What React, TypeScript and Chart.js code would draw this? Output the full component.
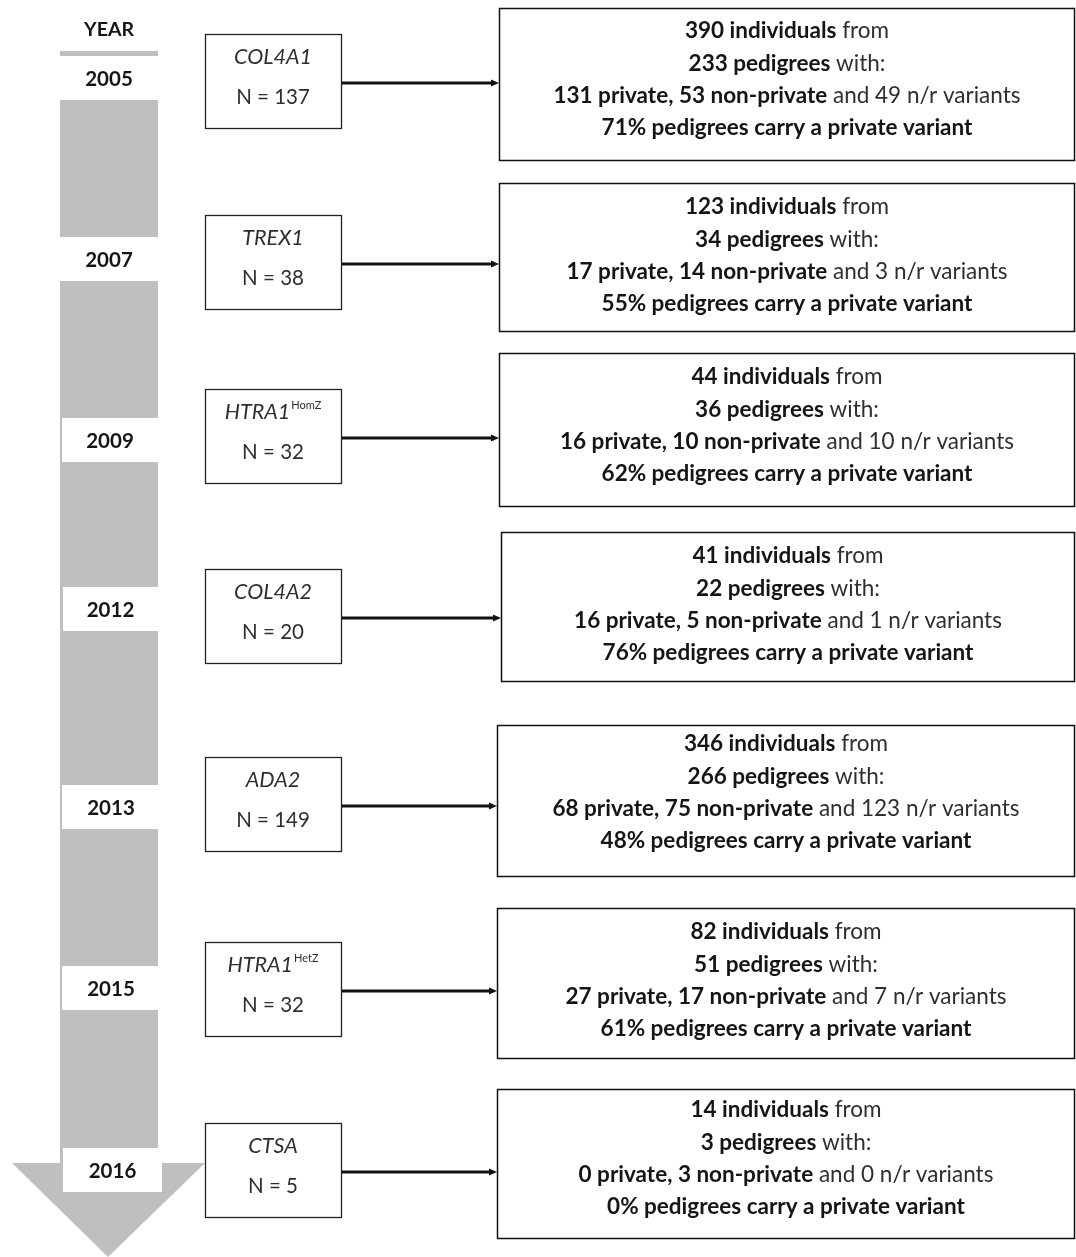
import React, { useEffect, useRef } from 'react';
import { Chart, registerables } from 'chart.js';

Chart.register(...registerables);

// ---------- data ----------
const years = ['2005', '2007', '2009', '2012', '2013', '2015', '2016'];
const genes = ['COL4A1', 'TREX1', 'HTRA1', 'COL4A2', 'ADA2', 'HTRA1', 'CTSA'];
const geneSup = ['', '', 'HomZ', '', '', 'HetZ', ''];
const geneN = [137, 38, 32, 20, 149, 32, 5];
const individuals = [390, 123, 44, 41, 346, 82, 14];
const pedigrees = [233, 34, 36, 22, 266, 51, 3];
const privateV = [131, 17, 16, 16, 68, 27, 0];
const nonPrivateV = [53, 14, 10, 5, 75, 17, 3];
const nrV = [49, 3, 10, 1, 123, 7, 0];
const pctPrivate = [71, 55, 62, 76, 48, 61, 0];

// ---------- layout (pixel units of the hidden linear scales) ----------
const W = 1076;
const H = 1257;
const yearBoxTop = [56, 237, 418, 587, 785, 966, 1148];
const yearBoxLeft = [60, 60, 62, 63, 62, 62, 63];
const yearBoxRight = [158, 158, 158, 158, 160, 160, 162];
const yearBoxH = 44;
const geneBoxTop = [34, 215, 389, 569, 757, 942, 1123];
const geneBoxH = 94;
const geneBoxL = 205;
const geneBoxR = 341;
const infoTop = [8, 183, 353, 532, 725, 908, 1089];
const infoBottom = [160, 331, 506, 681, 876, 1058, 1238];
const infoLeft = [499, 499, 499, 501, 497, 497, 497];
const infoRight = 1075;
const infoFirstLine = [31, 207, 377, 556, 744, 932, 1110];
const lineGap = 32.3;

const FONT = 'Lato, "Liberation Sans", sans-serif';
const TXT_B = '#151515';
const TXT_R = '#2e2e2e';

type Seg = { t: string; b?: boolean; i?: boolean };

function drawRich(ctx: CanvasRenderingContext2D, segs: Seg[], cx: number, cy: number, size: number) {
  const fontOf = (s: Seg) => `${s.i ? 'italic ' : ''}${s.b ? 'bold ' : ''}${size}px ${FONT}`;
  let total = 0;
  const widths = segs.map((s) => {
    ctx.font = fontOf(s);
    const w = ctx.measureText(s.t).width;
    total += w;
    return w;
  });
  let x = cx - total / 2;
  ctx.textAlign = 'left';
  ctx.textBaseline = 'middle';
  segs.forEach((s, k) => {
    ctx.font = fontOf(s);
    ctx.fillStyle = s.b ? TXT_B : TXT_R;
    ctx.fillText(s.t, x, cy);
    x += widths[k];
  });
}

const diagramPlugin = {
  id: 'timelineDiagram',
  afterDatasetsDraw(chart: any) {
    const ctx: CanvasRenderingContext2D = chart.ctx;
    const xs = chart.scales.x;
    const ys = chart.scales.y;
    const px = (v: number) => xs.getPixelForValue(v);
    const py = (v: number) => ys.getPixelForValue(v);
    ctx.save();

    // timeline shaft + arrow head
    ctx.fillStyle = '#bfbfbf';
    ctx.fillRect(px(60), py(51), px(158) - px(60), py(1164) - py(51));
    ctx.beginPath();
    ctx.moveTo(px(12), py(1163));
    ctx.lineTo(px(205), py(1163));
    ctx.lineTo(px(108), py(1257));
    ctx.closePath();
    ctx.fill();

    // YEAR header
    ctx.fillStyle = TXT_B;
    ctx.font = `bold 19.5px ${FONT}`;
    ctx.textAlign = 'center';
    ctx.textBaseline = 'middle';
    ctx.fillText('YEAR', px(109), py(30));

    years.forEach((yr, i) => {
      const l = px(yearBoxLeft[i]);
      const r = px(yearBoxRight[i]);
      const t = py(yearBoxTop[i]);
      const b = py(yearBoxTop[i] + yearBoxH);
      ctx.fillStyle = '#ffffff';
      ctx.fillRect(l, t, r - l, b - t);
      ctx.fillStyle = TXT_B;
      ctx.font = `bold 20.5px ${FONT}`;
      ctx.textAlign = 'center';
      ctx.textBaseline = 'middle';
      ctx.fillText(yr, (l + r) / 2, (t + b) / 2 + 1);
    });

    // gene boxes
    genes.forEach((g, i) => {
      const l = px(geneBoxL);
      const r = px(geneBoxR);
      const t = py(geneBoxTop[i]);
      const b = py(geneBoxTop[i] + geneBoxH);
      ctx.fillStyle = '#ffffff';
      ctx.fillRect(l, t, r - l, b - t);
      ctx.strokeStyle = '#222222';
      ctx.lineWidth = 1.3;
      ctx.strokeRect(l + 0.5, t + 0.5, r - l, b - t);
      const cx = (l + r) / 2;
      // name (italic) with optional superscript
      ctx.font = `italic 21.5px ${FONT}`;
      const wName = ctx.measureText(g).width;
      ctx.font = `11px ${FONT}`;
      const wSup = geneSup[i] ? ctx.measureText(geneSup[i]).width + 1 : 0;
      const x0 = cx - (wName + wSup) / 2;
      ctx.textAlign = 'left';
      ctx.textBaseline = 'middle';
      ctx.fillStyle = '#2e2e2e';
      ctx.font = `italic 21.5px ${FONT}`;
      ctx.fillText(g, x0, t + 23);
      if (geneSup[i]) {
        ctx.font = `11px ${FONT}`;
        ctx.fillText(geneSup[i], x0 + wName + 1, t + 16);
      }
      ctx.font = `20.5px ${FONT}`;
      ctx.textAlign = 'center';
      ctx.fillText(`N = ${geneN[i]}`, cx, t + 63);
    });

    // arrows + info boxes
    genes.forEach((_, i) => {
      const ay = py(geneBoxTop[i] + geneBoxH / 2 + 2);
      const x1 = px(geneBoxR + 1);
      const x2 = px(infoLeft[i]);
      ctx.strokeStyle = '#111111';
      ctx.lineWidth = 3;
      ctx.beginPath();
      ctx.moveTo(x1, ay);
      ctx.lineTo(x2 - 6, ay);
      ctx.stroke();
      ctx.fillStyle = '#111111';
      ctx.beginPath();
      ctx.moveTo(x2 - 8, ay - 3.5);
      ctx.lineTo(x2, ay);
      ctx.lineTo(x2 - 8, ay + 3.5);
      ctx.closePath();
      ctx.fill();

      const l = x2;
      const r = px(infoRight);
      const t = py(infoTop[i]);
      const b = py(infoBottom[i]);
      ctx.fillStyle = '#ffffff';
      ctx.fillRect(l, t, r - l, b - t);
      ctx.strokeStyle = '#111111';
      ctx.lineWidth = 1.5;
      ctx.strokeRect(l + 0.5, t + 0.5, r - l - 1, b - t);

      const cx = (l + r) / 2;
      const y0 = py(infoFirstLine[i]);
      const size = 22.5;
      drawRich(ctx, [{ t: `${individuals[i]} individuals`, b: true }, { t: ' from' }], cx, y0, size);
      drawRich(ctx, [{ t: `${pedigrees[i]} pedigrees`, b: true }, { t: ' with:' }], cx, y0 + lineGap, size);
      drawRich(
        ctx,
        [
          { t: `${privateV[i]} private, ${nonPrivateV[i]} non-private`, b: true },
          { t: ` and ${nrV[i]} n/r variants` },
        ],
        cx,
        y0 + lineGap * 2,
        size
      );
      drawRich(ctx, [{ t: `${pctPrivate[i]}% pedigrees carry a private variant`, b: true }], cx, y0 + lineGap * 3, size);
    });

    ctx.restore();
  },
};

export default function App() {
  const ref = useRef<HTMLCanvasElement | null>(null);
  useEffect(() => {
    document.body.style.margin = '0';
    if (!ref.current) return;
    const chart = new Chart(ref.current, {
      type: 'scatter',
      data: {
        datasets: [
          {
            data: genes.map((_, i) => ({ x: (geneBoxL + geneBoxR) / 2, y: geneBoxTop[i] + geneBoxH / 2 })),
            pointRadius: 0,
            showLine: false,
          },
        ],
      },
      options: {
        responsive: false,
        animation: false,
        devicePixelRatio: 1,
        layout: { padding: 0 },
        plugins: { legend: { display: false }, tooltip: { enabled: false } },
        scales: {
          x: { type: 'linear', min: 0, max: W, display: false },
          y: { type: 'linear', min: 0, max: H, reverse: true, display: false },
        },
      },
      plugins: [diagramPlugin],
    });
    return () => chart.destroy();
  }, []);
  return (
    <div style={{ width: W, height: H, background: '#fff' }}>
      <canvas ref={ref} width={W} height={H} style={{ display: 'block' }} />
    </div>
  );
}
